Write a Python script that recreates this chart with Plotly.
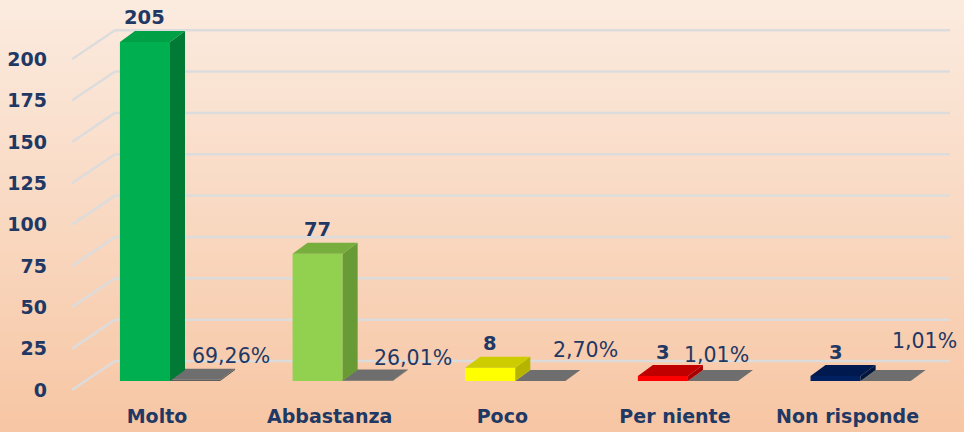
import plotly.graph_objects as go

# ---------------- data ----------------
categories = ["Molto", "Abbastanza", "Poco", "Per niente", "Non risponde"]
counts = [205, 77, 8, 3, 3]
shares = [0.6926, 0.2601, 0.0270, 0.0101, 0.0101]
y_ticks = [0, 25, 50, 75, 100, 125, 150, 175, 200]

# ---------------- styles ----------------
front_colors = ["#00B050", "#92D050", "#FFFF00", "#FF0000", "#002060"]
top_colors = ["#00A046", "#78AE3E", "#CCCC00", "#C00000", "#001A50"]
side_colors = ["#007A35", "#689A36", "#B5B500", "#A80000", "#00163F"]
gray_front, gray_top, gray_side = "#5E5E5E", "#6E6E6E", "#555555"
text_color = "#1F3864"
pct_xshift = [36, 45, 45, 4, 39]
pct_yshift = [24, 23, 31, 26, 40]

W, H = 964, 432
PL, PR, PT, PB = 72, 950, 10, 400          # plot area in pixels
X0_PX, PX_CAT = 170.0, 172.65              # category 0 centre, px per category
Y0_PX, PX_UNIT = 381.0, 1.654               # value 0 in bar plane, px per unit

xr = [(PL - X0_PX) / PX_CAT, (PR - X0_PX) / PX_CAT]
yr = [(Y0_PX - PB) / PX_UNIT, (Y0_PX - PT) / PX_UNIT]

DX = 15 / PX_CAT        # depth of bars (x)
DY = 11 / PX_UNIT       # depth of bars (y)
BAR_W = 0.29
WALL_X = (115 - X0_PX) / PX_CAT
WALL_DY = 20 / PX_UNIT
FRONT_DY = -9 / PX_UNIT

xs = list(range(len(categories)))

fig = go.Figure()
fig.add_trace(go.Bar(x=xs, y=counts, marker=dict(color=front_colors, line=dict(width=0)),
                     name="N", hoverinfo="skip"))
fig.add_trace(go.Bar(x=xs, y=shares, marker=dict(color=gray_front, line=dict(width=0)),
                     name="%", hoverinfo="skip"))

shapes = []
# background gradient
top_rgb = (251, 235, 223)
bot_rgb = (247, 198, 164)
N = 60
fy0, fy1 = -(H - PB) / (PB - PT), 1 + PT / (PB - PT)
for k in range(N):
    t = k / (N - 1)
    c = tuple(round(top_rgb[j] + (bot_rgb[j] - top_rgb[j]) * t) for j in range(3))
    y_hi = fy1 - (fy1 - fy0) * k / N
    y_lo = fy1 - (fy1 - fy0) * (k + 1) / N - 0.002
    shapes.append(dict(type="rect", xref="paper", yref="paper", x0=-0.2, x1=1.2,
                       y0=y_lo, y1=y_hi, fillcolor="rgb(%d,%d,%d)" % c,
                       line=dict(width=0), layer="below"))

# back wall gridlines + side wall diagonals
for v in y_ticks:
    shapes.append(dict(type="line", xref="x", yref="y", x0=WALL_X, x1=xr[1],
                       y0=v + WALL_DY, y1=v + WALL_DY,
                       line=dict(color="#DCDCDC", width=2.5), layer="below"))
    shapes.append(dict(type="line", xref="x", yref="y", x0=xr[0], x1=WALL_X,
                       y0=v + FRONT_DY, y1=v + WALL_DY,
                       line=dict(color="#DCDCDC", width=2.5), layer="below"))


def box_faces(xl, xrt, v, top_c, side_c):
    side = "M %f,%f L %f,%f L %f,%f L %f,%f Z" % (
        xrt, 0, xrt + DX, DY, xrt + DX, v + DY, xrt, v)
    top = "M %f,%f L %f,%f L %f,%f L %f,%f Z" % (
        xl, v, xl + DX, v + DY, xrt + DX, v + DY, xrt, v)
    return [dict(type="path", xref="x", yref="y", path=side, fillcolor=side_c,
                 line=dict(width=0), layer="above"),
            dict(type="path", xref="x", yref="y", path=top, fillcolor=top_c,
                 line=dict(width=0), layer="above")]


for i in xs:
    shapes += box_faces(i, i + BAR_W, shares[i], gray_top, gray_side)
for i in xs:
    shapes += box_faces(i - BAR_W, i, counts[i], top_colors[i], side_colors[i])

annotations = []
for i in xs:
    annotations.append(dict(x=i - BAR_W / 2, y=counts[i], xref="x", yref="y",
                            text="<b>%d</b>" % counts[i], showarrow=False,
                            yanchor="middle", yshift=24,
                            font=dict(family="DejaVu Sans", size=19.5, color=text_color)))
    pct = ("%.2f" % (shares[i] * 100)).replace(".", ",") + "%"
    annotations.append(dict(x=i + BAR_W / 2, y=shares[i], xref="x", yref="y",
                            text=pct, showarrow=False, yanchor="middle",
                            xshift=pct_xshift[i], yshift=pct_yshift[i],
                            font=dict(family="DejaVu Sans", size=20.5, color=text_color)))

fig.update_layout(
    width=W, height=H,
    margin=dict(l=PL, r=W - PR, t=PT, b=H - PB, pad=0, autoexpand=False),
    paper_bgcolor="#F9D9C3", plot_bgcolor="rgba(0,0,0,0)",
    barmode="group", bargap=0.42, bargroupgap=0,
    showlegend=False, shapes=shapes, annotations=annotations,
    font=dict(family="DejaVu Sans", color=text_color),
    xaxis=dict(range=xr, tickvals=xs, ticktext=["<b>%s</b>" % c for c in categories],
               showgrid=False, zeroline=False, showline=False, ticks="",
               automargin=False,
               ticklabelshift=-13, ticklabelstandoff=3,
               tickfont=dict(family="DejaVu Sans", size=19, color=text_color)),
    yaxis=dict(range=yr, tickvals=y_ticks, ticktext=["<b>%d</b>" % v for v in y_ticks],
               showgrid=False, zeroline=False, showline=False, ticks="",
               automargin=False,
               ticklabelshift=9, ticklabelstandoff=24,
               tickfont=dict(family="DejaVu Sans", size=19, color=text_color)),
)

fig.write_html(
    "out.html",
    config={"displayModeBar": False, "staticPlot": True},
    post_script="document.body.style.margin='0';document.body.style.padding='0';"
                "document.body.style.overflow='hidden';",
)
